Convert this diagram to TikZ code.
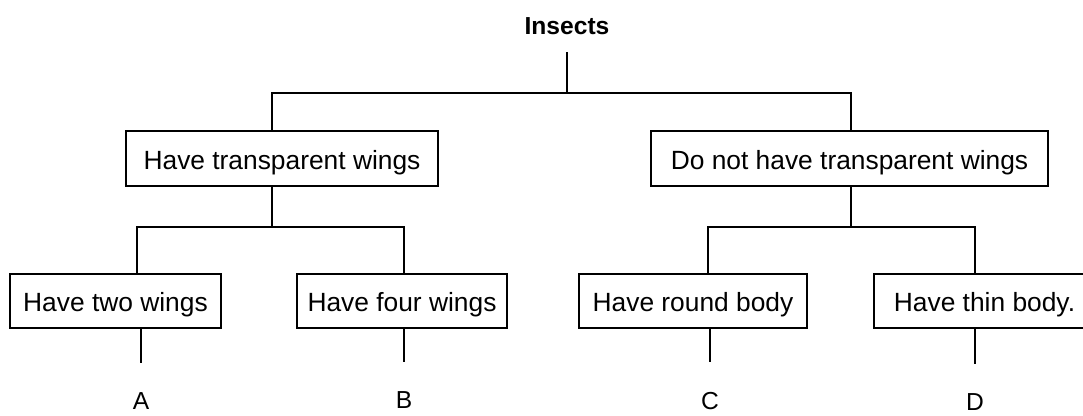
\documentclass[tikz,border=0pt]{standalone}
\usepackage{fontspec}
\setmainfont{Liberation Sans}
\usepackage{tikz}

\begin{document}
\begin{tikzpicture}[
	x = 0.02cm, y = -0.02cm,
	line width = 0.8pt,
	every node/.style = {font = \fontsize{15}{18}\selectfont},
	box/.style = {draw, minimum height = 1.1cm, text height = 12pt, text depth = 0pt, inner sep = 0pt},
	leaf/.style = {font = \fontsize{14}{17}\selectfont, inner sep = 0pt, outer ysep = 0.6cm}
	]
	\useasboundingbox (0,0) rectangle (1083,416);
	\node[font = \bfseries\fontsize{14}{17}\selectfont, inner sep = 0pt, outer ysep = 0.35cm] (insects) at (567,26) {Insects};
	\node[box, minimum width = 6.24cm] (trans) at (282,158.5) {Have transparent wings};
	\node[box, minimum width = 7.94cm] (notrans) at (849.5,158.5) {Do not have transparent wings};
	\node[box, minimum width = 4.22cm, minimum height = 1.08cm] (two) at (115.5,301) {Have two wings};
	\node[box, minimum width = 4.2cm, minimum height = 1.08cm] (four) at (402,301) {Have four wings};
	\node[box, minimum width = 4.56cm, minimum height = 1.08cm] (round) at (693,301) {Have round body};
	\node[box, minimum width = 4.42cm, minimum height = 1.08cm] (thin) at (984.5,301) {Have thin body.};
	\node[leaf] (a) at (141,401) {A};
	\node[leaf] (b) at (404,400) {B};
	\node[leaf] (c) at (710,401) {C};
	\node[leaf] (d) at (975,402) {D};
	\coordinate (t1) at (272,93);
	\coordinate (t2) at (851,93);
	\coordinate (m1) at (137,227);
	\coordinate (m2) at (404,227);
	\coordinate (m3) at (708,227);
	\coordinate (m4) at (975,227);
	\draw (insects.south) -- (insects.south |- t1);
	\draw (t1 |- trans.north) -- (t1) -- (t2) -- (t2 |- notrans.north);
	\draw (t1 |- trans.south) -- (t1 |- m1);
	\draw (t2 |- notrans.south) -- (t2 |- m3);
	\draw (m1 |- two.north) -- (m1) -- (m2) -- (m2 |- four.north);
	\draw (m3 |- round.north) -- (m3) -- (m4) -- (m4 |- thin.north);
	\draw (a |- two.south) -- (a);
	\draw (b |- four.south) -- (b);
	\draw (c |- round.south) -- (c);
	\draw (d |- thin.south) -- (d);
\end{tikzpicture}
\end{document}
